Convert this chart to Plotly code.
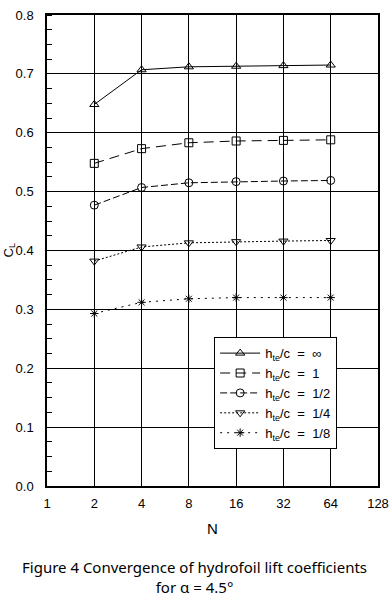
import plotly.graph_objects as go

N = [2, 4, 8, 16, 32, 64]
cl_inf = [0.648, 0.707, 0.712, 0.713, 0.714, 0.715]
cl_1 = [0.548, 0.573, 0.583, 0.586, 0.587, 0.588]
cl_half = [0.477, 0.507, 0.515, 0.517, 0.518, 0.519]
cl_quarter = [0.382, 0.406, 0.413, 0.415, 0.416, 0.417]
cl_eighth = [0.293, 0.312, 0.318, 0.320, 0.320, 0.320]

x_ticks = [1, 2, 4, 8, 16, 32, 64, 128]
y_ticks = [0.0, 0.1, 0.2, 0.3, 0.4, 0.5, 0.6, 0.7, 0.8]

S = "\u00a0"
def lbl(v):
    return f"h<sub>te</sub>/c{S*2}={S*2}{v}"

series = [
    (lbl("∞"), cl_inf, "triangle-up-open", "solid", 8),
    (lbl("1"), cl_1, "square-open", "10px,6px", 8),
    (lbl("1/2"), cl_half, "circle-open", "7px,3px", 8),
    (lbl("1/4"), cl_quarter, "triangle-down-open", "2px,2px", 8),
    (lbl("1/8"), cl_eighth, "asterisk-open", "2px,5px", 7),
]

fig = go.Figure()
for name, y, sym, dash, sz in series:
    fig.add_trace(go.Scatter(
        x=N, y=y, name=name, mode="lines+markers",
        line=dict(color="black", width=1, dash=dash),
        marker=dict(symbol=sym, size=sz, color="black", line=dict(width=1, color="black")),
    ))

font = "Liberation Sans, Arial, sans-serif"
fig.update_layout(
    width=390, height=597,
    margin=dict(l=47, r=12, t=15, b=111),
    paper_bgcolor="white", plot_bgcolor="white",
    font=dict(family=font, size=12, color="black"),
    showlegend=True,
    legend=dict(
        x=0.505, y=0.316, xanchor="left", yanchor="top",
        bgcolor="white", bordercolor="black", borderwidth=1,
        font=dict(size=13, family=font), tracegroupgap=0,
        itemwidth=40,
    ),
    xaxis=dict(
        type="log", range=[0, 2.10721], tickvals=x_ticks,
        ticktext=[str(v) for v in x_ticks], automargin=False,
        showgrid=True, gridcolor="black", gridwidth=1,
        showline=True, linecolor="black", linewidth=1.5, mirror=True,
        ticks="", ticklabelstandoff=5, zeroline=False,
        title=dict(text="N", font=dict(size=15), standoff=13),
        tickfont=dict(size=13),
    ),
    yaxis=dict(
        range=[0, 0.8], tickvals=y_ticks, automargin=False,
        ticktext=[f"{v:.1f}" for v in y_ticks],
        showgrid=True, gridcolor="black", gridwidth=1,
        showline=True, linecolor="black", linewidth=1.5, mirror=True,
        ticks="", ticklabelstandoff=9, zeroline=False,
        tickfont=dict(size=13),
        minor=dict(dtick=0.025, ticks="inside", ticklen=5, tickcolor="black", showgrid=False),
    ),
    annotations=[
        dict(text="C<sub>L</sub>", x=0, xref="paper", xshift=-38, y=0.4, yref="y",
             textangle=-90, showarrow=False, font=dict(size=13), xanchor="center", yanchor="middle"),
        dict(text="Figure 4 Convergence of hydrofoil lift coefficients<br>for α = 4.5°",
             x=0.445, xref="paper", y=0, yref="paper", showarrow=False,
             font=dict(size=15, family="Noto Sans, sans-serif"), align="center",
             xanchor="center", yanchor="top", yshift=-69),
    ],
)
fig.write_html(
    "out.html",
    config={"responsive": False, "displayModeBar": False},
    post_script="document.body.style.margin='0';document.body.style.overflow='hidden';",
)
